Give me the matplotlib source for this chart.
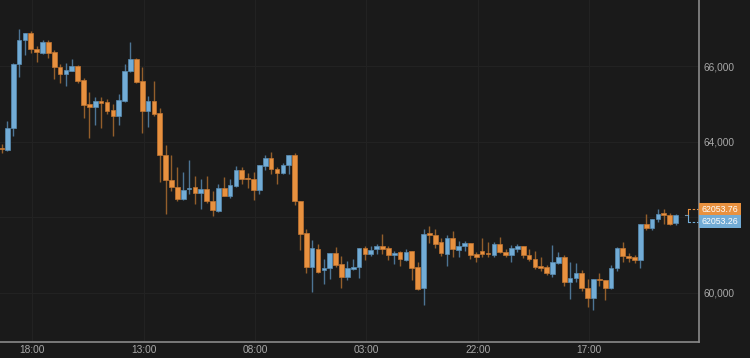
import matplotlib
matplotlib.use("Agg")
import matplotlib.pyplot as plt
import numpy as np
from matplotlib.transforms import blended_transform_factory
from matplotlib.patches import Rectangle

plt.rcParams['font.family'] = ['Liberation Sans', 'DejaVu Sans']

# ---- data (hourly candles) ----
opens = [63844, 63778, 64378, 66060, 66688, 66881, 66450, 66362, 66635, 66389,
         65992, 65796, 65886, 66008, 65638, 64995, 64923, 65082, 65056, 64836,
         64677, 65093, 65886, 66204, 65603, 64828, 65074, 64757, 63646, 62984,
         62807, 62481, 62746, 62807, 62659, 62746, 62437, 62172, 62791, 62569,
         62825, 63249, 63045, 63029, 62720, 63362, 63574, 63294, 63178, 63381,
         63646, 62429, 61582, 60675, 61151, 60595, 60648, 61045, 60754, 60410,
         60622, 60675, 61193, 61026, 61151, 61246, 61177, 60992, 61071, 60868,
         61106, 60675, 60135, 61574, 61547, 61336, 61026, 61468, 61132, 61238,
         61317, 61026, 61114, 61053, 61000, 61299, 61087, 60992, 61167, 61230,
         61000, 60894, 60709, 60683, 60505, 60796, 60939, 60286, 60392, 60532,
         60127, 59855, 60373, 60331, 60119, 60648, 61177, 60981, 60939, 60868,
         61820, 61733, 61952, 62093, 62077, 61847]
highs = [63937, 64545, 66080, 66997, 66890, 66934, 66529, 66706, 66706, 66423,
         66053, 66098, 66193, 66045, 65701, 65320, 65198, 65198, 65146, 65013,
         65259, 66071, 66635, 66215, 65981, 65206, 65603, 64907, 63910, 63646,
         63336, 63196, 63513, 63098, 63029, 63098, 62701, 62897, 63071, 63011,
         63354, 63336, 63188, 63204, 63400, 63646, 63725, 63336, 63452, 63664,
         63717, 62440, 61706, 61397, 61309, 60902, 61061, 61204, 60981, 60841,
         60902, 61190, 61238, 61246, 61283, 61574, 61246, 61106, 61106, 61151,
         61115, 60807, 61706, 61767, 61696, 61468, 61547, 61635, 61370, 61370,
         61325, 61087, 61450, 61362, 61336, 61484, 61151, 61264, 61291, 61240,
         61151, 61106, 60939, 60735, 61264, 61087, 61000, 60815, 60796, 60603,
         60365, 60380, 60516, 60340, 60735, 61221, 61336, 61061, 61000, 61830,
         62103, 61971, 62217, 62217, 62130, 62085]
lows = [63706, 63759, 64148, 65717, 66310, 66362, 66114, 66336, 66230, 65664,
        65569, 65489, 65868, 65558, 64632, 64114, 64439, 64368, 64749, 64156,
        64439, 65066, 65860, 65570, 64235, 64394, 64696, 62939, 62103, 62693,
        62437, 62455, 62614, 62368, 62235, 62384, 62032, 62146, 62560, 62516,
        62810, 62878, 62780, 62474, 62614, 63249, 63161, 62897, 63161, 63143,
        62323, 61132, 60532, 60029, 60516, 60233, 60357, 60690, 60135, 60339,
        60603, 60399, 60867, 60981, 61026, 61026, 60867, 60762, 60717, 60850,
        60339, 60074, 59669, 61325, 61193, 60981, 60717, 60955, 60955, 61114,
        60902, 60815, 60939, 60955, 60939, 61061, 60939, 60815, 61087, 60929,
        60841, 60630, 60577, 60463, 60426, 60762, 60180, 59828, 60294, 60056,
        59632, 59545, 60180, 59808, 60092, 60577, 60823, 60823, 60780, 60664,
        61661, 61661, 61881, 61839, 61794, 61812]
closes = [63804, 64378, 66071, 66706, 66881, 66450, 66370, 66635, 66362, 65992,
          65796, 65902, 66008, 65622, 64987, 64923, 65074, 65029, 64817, 64677,
          65119, 65886, 66204, 65585, 64828, 65074, 64749, 63646, 62984, 62807,
          62489, 62727, 62791, 62659, 62746, 62429, 62190, 62791, 62569, 62860,
          63249, 63029, 63011, 62720, 63381, 63574, 63294, 63188, 63381, 63646,
          62429, 61574, 60690, 61177, 60558, 60656, 61045, 60735, 60410, 60648,
          60690, 61177, 61026, 61132, 61246, 61159, 60992, 61061, 60894, 61087,
          60664, 60100, 61574, 61537, 61309, 61045, 61442, 61151, 61238, 61317,
          61000, 60955, 61026, 61018, 61299, 61087, 60992, 61193, 61230, 61000,
          60886, 60690, 60664, 60516, 60807, 60939, 60294, 60392, 60532, 60119,
          59855, 60373, 60331, 60119, 60648, 61177, 60974, 60921, 60868, 61820,
          61733, 61952, 62093, 62066, 61828, 62053]

x_tick_pos = [5.25, 24.25, 43.25, 62.25, 81.25, 100.25]
x_tick_labels = ["18:00", "13:00", "08:00", "03:00", "22:00", "17:00"]
y_ticks = [60000, 62000, 64000, 66000]
y_tick_labels = ["60,000", "", "64,000", "66,000"]
last_ask = 62053.76
last_bid = 62053.26
ask_label = "62053.76"
bid_label = "62053.26"

# ---- style ----
BG = '#1a1a1a'
UP_BODY, UP_EDGE, UP_WICK = '#72acd6', '#5a8db3', '#4d7494'
DN_BODY, DN_EDGE, DN_WICK = '#e8913f', '#c47632', '#935e2b'

fig = plt.figure(figsize=(7.5, 3.58), dpi=100, facecolor=BG)
ax = fig.add_axes([0, 16 / 358, 699 / 750, 342 / 358])
ax.set_facecolor(BG)

o = np.array(opens, float)
h = np.array(highs, float)
l = np.array(lows, float)
c = np.array(closes, float)
x = np.arange(len(o))
up = c >= o

ax.vlines(x[up], l[up], h[up], colors=UP_WICK, linewidth=1.0, zorder=2)
ax.vlines(x[~up], l[~up], h[~up], colors=DN_WICK, linewidth=1.0, zorder=2)

ylo, yhi = 58700, 67760
px = (yhi - ylo) / 342.0
body_h = np.maximum(np.abs(c - o), 1.6 * px)
body_b = np.minimum(o, c)
ax.bar(x[up], body_h[up], bottom=body_b[up], width=0.8, color=UP_BODY,
       edgecolor=UP_EDGE, linewidth=0.5, zorder=3)
ax.bar(x[~up], body_h[~up], bottom=body_b[~up], width=0.8, color=DN_BODY,
       edgecolor=DN_EDGE, linewidth=0.5, zorder=3)

ax.set_xlim(-0.256, 119.0)
ax.set_ylim(ylo, yhi)

ax.set_xticks(x_tick_pos)
ax.set_xticklabels(x_tick_labels)
ax.set_yticks(y_ticks)
ax.set_yticklabels(y_tick_labels)
ax.yaxis.tick_right()
ax.tick_params(axis='both', length=0, labelsize=7.3, labelcolor='#a8a8a8')
ax.tick_params(axis='y', pad=3.5)
ax.tick_params(axis='x', pad=2.5)
ax.grid(True, color='#222222', linewidth=0.8, zorder=0)
ax.set_axisbelow(True)

for s in ['top', 'left']:
    ax.spines[s].set_visible(False)
for s in ['right', 'bottom']:
    ax.spines[s].set_color('#8a8a8a')
    ax.spines[s].set_linewidth(1.2)

# ---- last price markers ----
trans = blended_transform_factory(ax.transAxes, ax.transData)
aw = 699.0
level = (last_ask + last_bid) / 2
dy = 6.3 * px
ax.plot([685 / aw, 687.5 / aw], [level, level], transform=trans,
        color='#6f8ea5', lw=0.8, clip_on=False, zorder=5)
ax.plot([688.3 / aw, 688.3 / aw], [level, level + dy], transform=trans,
        color=DN_BODY, lw=0.8, clip_on=False, zorder=5)
ax.plot([688.3 / aw, 688.3 / aw], [level - dy, level], transform=trans,
        color=UP_BODY, lw=0.8, clip_on=False, zorder=5)
ax.plot([688.3 / aw, 698 / aw], [level + dy, level + dy], transform=trans,
        color=DN_BODY, lw=0.8, ls=(0, (2.2, 1.6)), clip_on=False, zorder=5)
ax.plot([688.3 / aw, 698 / aw], [level - dy, level - dy], transform=trans,
        color=UP_BODY, lw=0.8, ls=(0, (2.2, 1.6)), clip_on=False, zorder=5)

bw = 42 / aw
ax.add_patch(Rectangle((1.0, level), bw, 2 * dy, transform=trans,
                       facecolor=DN_BODY, edgecolor='none', clip_on=False, zorder=6))
ax.add_patch(Rectangle((1.0, level - 2 * dy), bw, 2 * dy, transform=trans,
                       facecolor=UP_BODY, edgecolor='none', clip_on=False, zorder=6))
ax.text(1.0 + bw / 2, level + dy, ask_label, transform=trans, ha='center',
        va='center', fontsize=6.3, color='white', zorder=7, clip_on=False)
ax.text(1.0 + bw / 2, level - dy, bid_label, transform=trans, ha='center',
        va='center', fontsize=6.3, color='white', zorder=7, clip_on=False)

fig.savefig("out.png", dpi=100, facecolor=BG)
